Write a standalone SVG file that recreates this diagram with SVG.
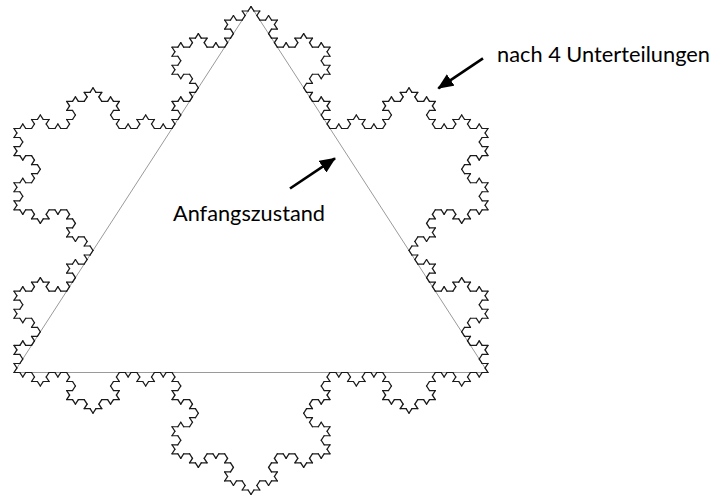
<svg xmlns="http://www.w3.org/2000/svg" xmlns:xlink="http://www.w3.org/1999/xlink" width="716" height="495" viewBox="0 0 716 495">
  <style>
    .koch { fill: none; stroke: #1a1a1a; stroke-width: 1.3; stroke-linecap: round; }
    .tri { fill: none; stroke: #9a9a9a; stroke-width: 1; }
    .lbl { font-family: Lato, "Open Sans", "Liberation Sans", sans-serif; font-size: 22px; fill: #000; }
    .arrow { stroke: #000; stroke-width: 2.6; fill: none; }
  </style>
  <defs>
    <marker id="head" markerUnits="userSpaceOnUse" markerWidth="16" markerHeight="14" refX="15" refY="7" orient="auto">
      <path d="M0 0L16 7L0 14Z" fill="#000"/>
    </marker>
    <path id="k0" d="M0 0H5.85185"/>
    <g id="k1">
      <use href="#k0"/>
      <use href="#k0" transform="translate(5.85185 0) rotate(-60)"/>
      <use href="#k0" transform="translate(8.77778 -5.06786) rotate(60)"/>
      <use href="#k0" transform="translate(11.7037 0)"/>
    </g>
    <g id="k2">
      <use href="#k1"/>
      <use href="#k1" transform="translate(17.5556 0) rotate(-60)"/>
      <use href="#k1" transform="translate(26.3333 -15.2036) rotate(60)"/>
      <use href="#k1" transform="translate(35.1111 0)"/>
    </g>
    <g id="k3">
      <use href="#k2"/>
      <use href="#k2" transform="translate(52.6667 0) rotate(-60)"/>
      <use href="#k2" transform="translate(79 -45.6107) rotate(60)"/>
      <use href="#k2" transform="translate(105.3333 0)"/>
    </g>
    <g id="k4">
      <use href="#k3"/>
      <use href="#k3" transform="translate(158 0) rotate(-60)"/>
      <use href="#k3" transform="translate(237 -136.832) rotate(60)"/>
      <use href="#k3" transform="translate(316 0)"/>
    </g>
  </defs>

  <g id="triangle" class="tri">
    <polygon points="14,372.5 251,6.5 488,372.5"/>
  </g>

  <g id="snowflake" class="koch" transform="translate(14 372.5) scale(1 0.8916)">
    <use href="#k4" transform="rotate(-60)"/>
    <use href="#k4" transform="translate(237 -410.496) rotate(60)"/>
    <use href="#k4" transform="translate(474 0) rotate(180)"/>
  </g>

  <g id="label-start">
    <text class="lbl" x="173" y="221" textLength="152" lengthAdjust="spacingAndGlyphs">Anfangszustand</text>
  </g>
  <g id="label-after">
    <text class="lbl" x="497" y="62" textLength="213" lengthAdjust="spacingAndGlyphs">nach 4 Unterteilungen</text>
  </g>

  <g id="connectors">
    <line class="arrow" x1="290" y1="188.5" x2="335" y2="158.3" marker-end="url(#head)"/>
    <line class="arrow" x1="483" y1="58.3" x2="438.3" y2="88.3" marker-end="url(#head)"/>
  </g>
</svg>
